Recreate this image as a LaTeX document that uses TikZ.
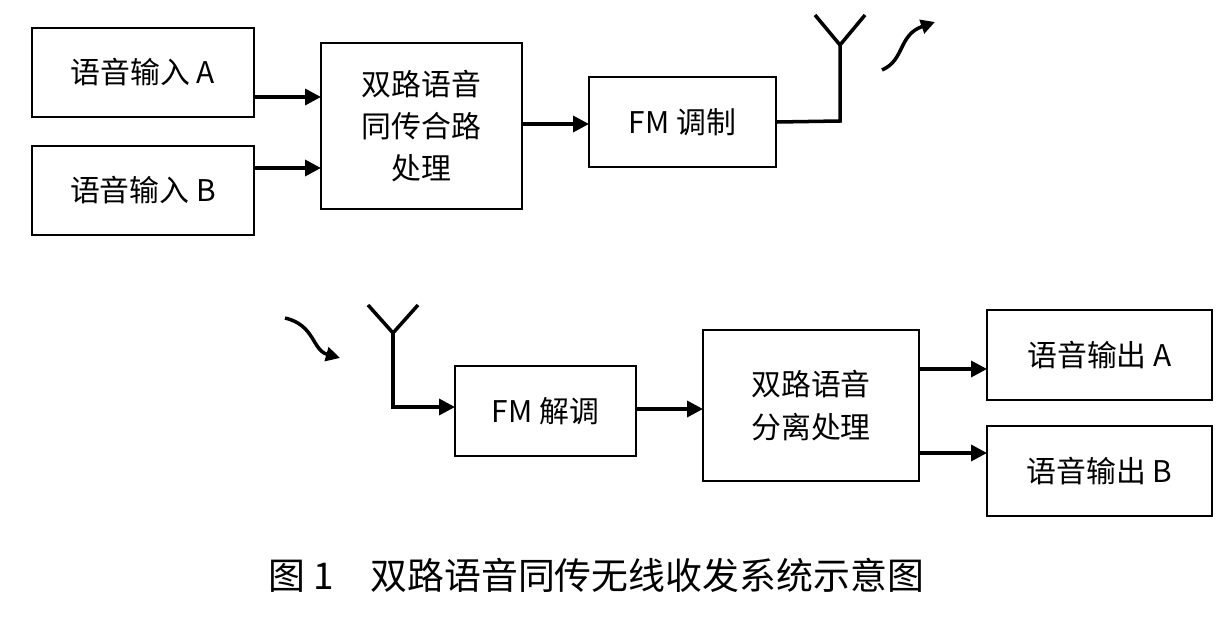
\documentclass[tikz,border=0pt]{standalone}
\usepackage{fontspec}
\setmainfont{Carlito}
\newfontfamily\cjk{Noto Sans CJK SC}
\usetikzlibrary{arrows.meta}
\begin{document}
\begin{tikzpicture}[x=0.02cm,y=-0.02cm,
  blk/.style={draw,line width=1.2pt,inner sep=0pt,font=\cjk\fontsize{17}{24}\selectfont,align=center},
  arr/.style={line width=2pt,-{Triangle[length=9pt,width=9pt]}},
  wire/.style={line width=2pt}]
\useasboundingbox (0,0) rectangle (1229,618);
\node[blk,minimum width=222*0.02cm,minimum height=89*0.02cm] (ia) at (143,72.5) {语音输入 A};
\node[blk,minimum width=222*0.02cm,minimum height=89*0.02cm] (ib) at (143,190.5) {语音输入 B};
\node[blk,minimum width=201*0.02cm,minimum height=166*0.02cm] (mix) at (421.5,126) {双路语音\\同传合路\\处理};
\node[blk,minimum width=187*0.02cm,minimum height=90*0.02cm] (fm) at (682.5,122) {FM 调制};
\draw[arr] (254,97) -- (321,97);
\draw[arr] (254,168) -- (321,168);
\draw[arr] (522,124) -- (589,124);
\coordinate (t1) at (840,121);
\coordinate (t2) at (840,45);
\draw[wire] (fm.east) -- (t1) -- (t2);
\draw[wire] (815,15) -- (t2) -- (865,15);
\draw[line width=2pt,-{Triangle[length=8pt,width=8pt]}] (882,70) .. controls (905,60) and (898,35) .. (935,22);

\node[blk,minimum width=181*0.02cm,minimum height=90*0.02cm] (dm) at (545.5,411) {FM 解调};
\node[blk,minimum width=216*0.02cm,minimum height=151*0.02cm] (sep) at (811,405.5) {双路语音\\分离处理};
\node[blk,minimum width=225*0.02cm,minimum height=90*0.02cm] (oa) at (1099.5,355) {语音输出 A};
\node[blk,minimum width=225*0.02cm,minimum height=90*0.02cm] (ob) at (1099.5,471) {语音输出 B};
\coordinate (r1) at (393,333);
\coordinate (r2) at (393,407);
\draw[wire] (368,305) -- (r1) -- (418,305);
\draw[arr] (r1) -- (r2) -- (455,407);
\draw[arr] (636,409) -- (703,409);
\draw[arr] (919,369) -- (987,369);
\draw[arr] (919,453) -- (987,453);
\draw[line width=2pt,-{Triangle[length=8pt,width=8pt]}] (285,318) .. controls (315,325) and (312,350) .. (340,358);

\node[font=\cjk\fontsize{21}{26}\selectfont] (cap) at (596,575) {图 1\quad 双路语音同传无线收发系统示意图};
\end{tikzpicture}
\end{document}
